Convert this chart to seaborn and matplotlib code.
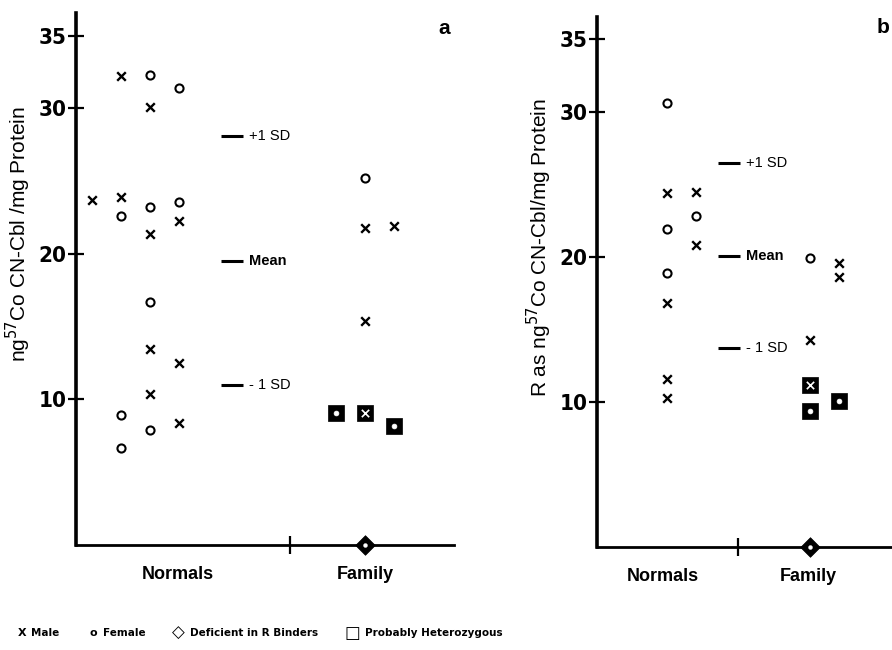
# Two strip panels: R binder CN-Cbl in normals vs. family members
import numpy as np
import pandas as pd
import matplotlib
matplotlib.use("Agg")
import matplotlib.pyplot as plt
import seaborn as sns

sns.set_theme(style="white")
plt.rcParams['font.family'] = ['Liberation Sans', 'DejaVu Sans']
plt.rcParams['text.color'] = 'black'
plt.rcParams['axes.labelcolor'] = 'black'
plt.rcParams['xtick.color'] = 'black'
plt.rcParams['ytick.color'] = 'black'

# ------------------------------------------
# Data (slot = column within the group)
# ------------------------------------------
a_norm_male_slot = [0, 1, 1, 2, 2, 2, 2, 3, 3, 3]
a_norm_male_val = [23.7, 32.2, 23.9, 30.1, 21.4, 13.5, 10.4, 22.3, 12.5, 8.4]
a_norm_female_slot = [1, 1, 1, 2, 2, 2, 2, 3, 3]
a_norm_female_val = [22.6, 8.9, 6.7, 32.3, 23.2, 16.7, 7.9, 31.4, 23.6]
a_fam_male_slot = [1, 2, 1]
a_fam_male_val = [21.8, 21.9, 15.4]
a_fam_female_slot = [1]
a_fam_female_val = [25.2]
a_het_slot = [0, 1, 2]
a_het_val = [9.1, 9.1, 8.2]
a_het_sex = ['Female', 'Male', 'Female']
a_def_slot = [1]
a_def_val = [0.0]
a_stats = [28.1, 19.5, 11.0]

b_norm_male_slot = [0, 0, 0, 0, 1, 1]
b_norm_male_val = [24.4, 16.8, 11.6, 10.3, 24.5, 20.8]
b_norm_female_slot = [0, 0, 0, 1]
b_norm_female_val = [30.6, 21.9, 18.9, 22.8]
b_fam_male_slot = [1, 1, 0]
b_fam_male_val = [19.6, 18.6, 14.3]
b_fam_female_slot = [0]
b_fam_female_val = [19.9]
b_het_slot = [0, 0, 1]
b_het_val = [11.2, 9.4, 10.1]
b_het_sex = ['Male', 'Female', 'Female']
b_def_slot = [0]
b_def_val = [0.0]
b_stats = [26.5, 20.1, 13.7]

stat_labels = ['+1 SD', 'Mean', '- 1 SD']
group_labels = ['Normals', 'Family']
y_ticks = [10, 20, 30, 35]

panels = [
    dict(letter='a', ylabel='ng$^{57}$Co CN-Cbl /mg Protein',
         nm=(a_norm_male_slot, a_norm_male_val), nf=(a_norm_female_slot, a_norm_female_val),
         fm=(a_fam_male_slot, a_fam_male_val), ff=(a_fam_female_slot, a_fam_female_val),
         het=(a_het_slot, a_het_val, a_het_sex), dfc=(a_def_slot, a_def_val), stats=a_stats),
    dict(letter='b', ylabel='R as ng$^{57}$Co CN-Cbl/mg Protein',
         nm=(b_norm_male_slot, b_norm_male_val), nf=(b_norm_female_slot, b_norm_female_val),
         fm=(b_fam_male_slot, b_fam_male_val), ff=(b_fam_female_slot, b_fam_female_val),
         het=(b_het_slot, b_het_val, b_het_sex), dfc=(b_def_slot, b_def_val), stats=b_stats),
]

# layout per panel (x in column units)
layouts = [
    dict(rect=[76 / 892, 105 / 650, 378 / 892, 532 / 650], ylim=36.56,
         norm0=0.55, fam0=8.95, sd=(5.0, 5.76), sep=7.38,
         lab_x=(3.5, 9.97), letter_xy=(12.7, 35.5), ylab_xy=(-0.114, 0.585)),
    dict(rect=[597 / 892, 103 / 650, 378 / 892, 530 / 650], ylim=36.55,
         norm0=2.41, fam0=7.33, sd=(4.17, 4.93), sep=4.86,
         lab_x=(2.28, 7.28), letter_xy=(9.86, 35.8), ylab_xy=(-0.114, 0.565)),
]

fig = plt.figure(figsize=(8.92, 6.5), dpi=100)


def frame(slots, vals, base, sex):
    return pd.DataFrame({'x': base + np.asarray(slots, dtype=float),
                         'y': vals, 'sex': sex})


for p, lay in zip(panels, layouts):
    ax = fig.add_axes(lay['rect'])

    male = pd.concat([frame(*p['nm'], lay['norm0'], 'Male'),
                      frame(*p['fm'], lay['fam0'], 'Male')])
    female = pd.concat([frame(*p['nf'], lay['norm0'], 'Female'),
                        frame(*p['ff'], lay['fam0'], 'Female')])
    het = frame(p['het'][0], p['het'][1], lay['fam0'], p['het'][2])
    dfc = frame(*p['dfc'], lay['fam0'], 'Female')

    sns.scatterplot(data=male, x='x', y='y', marker='x', color='black',
                    s=38, linewidth=1.7, ax=ax)
    sns.scatterplot(data=female, x='x', y='y', marker='o', facecolor='white',
                    edgecolor='black', s=34, linewidth=1.5, ax=ax)

    # probably heterozygous: black box with the sex symbol inside
    sns.scatterplot(data=het, x='x', y='y', marker='s', color='black',
                    edgecolor='black', s=135, linewidth=0.5, ax=ax, zorder=3)
    sns.scatterplot(data=het[het['sex'] == 'Female'], x='x', y='y', marker='o',
                    color='white', edgecolor='white', s=12, linewidth=0.5,
                    ax=ax, zorder=4)
    sns.scatterplot(data=het[het['sex'] == 'Male'], x='x', y='y', marker='x',
                    color='white', s=28, linewidth=1.2, ax=ax, zorder=4)

    # deficient in R binders, sitting on the x axis
    sns.scatterplot(data=dfc, x='x', y='y', marker='D', color='black',
                    edgecolor='black', s=100, linewidth=0.5, ax=ax,
                    zorder=5, clip_on=False)
    sns.scatterplot(data=dfc, x='x', y='y', marker='o', color='white',
                    edgecolor='white', s=8, linewidth=0.3, ax=ax,
                    zorder=6, clip_on=False)

    # mean / SD markers
    for val, lab in zip(p['stats'], stat_labels):
        ax.plot(lay['sd'], [val, val], color='black', lw=2.2,
                solid_capstyle='butt')
        ax.text(lay['sd'][1] + 0.2, val, lab, fontsize=10.5, va='center',
                ha='left', color='black',
                fontweight='bold' if lab == 'Mean' else 'normal')

    ax.set_xlim(0, 13.03)
    ax.set_ylim(0, lay['ylim'])
    ax.set_xlabel('')
    ax.set_ylabel(p['ylabel'], fontsize=15, color='black')
    ax.yaxis.set_label_coords(*lay['ylab_xy'])

    sns.despine(ax=ax)
    ax.spines['left'].set_linewidth(2.6)
    ax.spines['bottom'].set_linewidth(2.0)
    ax.spines['left'].set_color('black')
    ax.spines['bottom'].set_color('black')

    ax.set_yticks(y_ticks)
    ax.set_yticklabels([str(t) for t in y_ticks])
    for t in ax.get_yticklabels():
        t.set_fontfamily(['DejaVu Sans'])
        t.set_fontstretch('condensed')
        t.set_fontweight('bold')
        t.set_fontsize(16)
    ax.set_xticks([lay['sep']])
    ax.set_xticklabels([''])
    ax.set_xticks(list(lay['lab_x']), minor=True)
    ax.set_xticklabels(group_labels, minor=True, fontsize=13,
                       fontweight='bold')
    ax.tick_params(axis='y', which='major', direction='inout', length=12,
                   width=1.6, color='black', left=True, pad=1)
    ax.tick_params(axis='x', which='major', direction='inout', length=13,
                   width=1.6, color='black', bottom=True)
    ax.tick_params(axis='x', which='minor', length=0, pad=15, bottom=True)

    ax.text(*lay['letter_xy'], p['letter'], fontsize=15, fontweight='bold',
            ha='center', va='center')

# legend row along the bottom: symbol then label
legend_syms = ['X', 'o', '\u25c7', '\u25a1']
legend_texts = ['Male', 'Female', 'Deficient in R Binders', 'Probably Heterozygous']
legend_sym_px = [18, 90, 172, 345]
legend_txt_px = [31, 103, 190, 365]
legend_sym_size = [8, 8, 12, 12]
for sym, txt, sx, tx, fs in zip(legend_syms, legend_texts, legend_sym_px,
                                legend_txt_px, legend_sym_size):
    fig.text(sx / 892, 17 / 650, sym, fontsize=fs, fontweight='bold',
             ha='left', va='center', family=['DejaVu Sans'])
    fig.text(tx / 892, 17 / 650, txt, fontsize=7.5, fontweight='bold',
             ha='left', va='center', family=['DejaVu Sans'])

plt.savefig('out.png', dpi=100)
